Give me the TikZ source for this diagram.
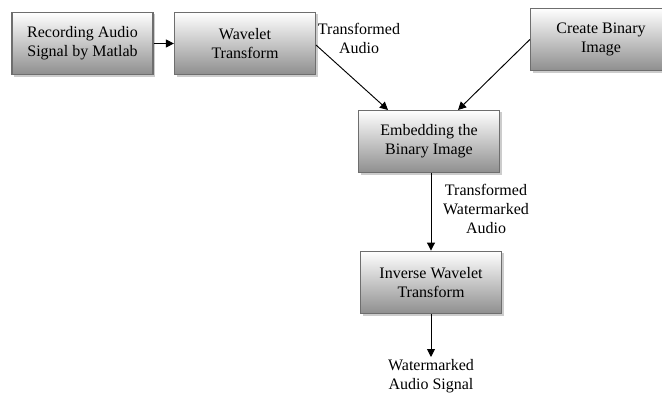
\documentclass[tikz,border=0pt]{standalone}
\usepackage{fontspec}
\setmainfont{Liberation Serif}
\usetikzlibrary{arrows.meta,shadows}
\definecolor{edge}{HTML}{6E6E6E}
\definecolor{shadeb}{HTML}{8E8E8E}
\tikzset{
  stage/.style={draw=edge, line width=0.9pt, top color=white, bottom color=shadeb,
    drop shadow={shadow xshift=1.5pt, shadow yshift=-1.5pt, opacity=0.4},
    minimum width=105.75pt, minimum height=47pt, align=center, font=\fontsize{12}{14.2}\selectfont},
  lab/.style={align=center, font=\fontsize{12}{14.2}\selectfont},
  flow/.style={draw=black, line width=0.7pt, -{Triangle[length=6pt,width=6pt]}},
}
\begin{document}
\begin{tikzpicture}[x=0.75pt,y=-0.75pt]
  \useasboundingbox (0,0) rectangle (662,396);

  \node[stage] (rec) at (82.5,43.5) {Recording Audio\\Signal by Matlab};
  \node[stage] (wav) at (245,43.5) {Wavelet\\Transform};
  \node[stage] (bin) at (601,39.5) {Create Binary\\Image};
  \node[stage] (emb) at (429,141.5) {Embedding the\\Binary Image};
  \node[stage] (inv) at (431,282.5) {Inverse Wavelet\\Transform};
  \node[lab] (out) at (431,376) {Watermarked\\Audio Signal};

  \node[lab] (tal) at (359,38) {Transformed\\Audio};
  \node[lab] (twa) at (486,209) {Transformed\\Watermarked\\Audio};

  \coordinate (wavout) at (316,45);
  \coordinate (embl) at (388,110);
  \coordinate (embr) at (458,110);
  \coordinate (outtop) at (431,357);

  \draw[flow] (rec) -- (wav);
  \draw[flow] (wavout) -- (embl);
  \draw[flow] (bin.west) -- (embr);
  \draw[flow] (emb.south -| inv) -- (inv);
  \draw[flow] (inv) -- (outtop);
\end{tikzpicture}
\end{document}
